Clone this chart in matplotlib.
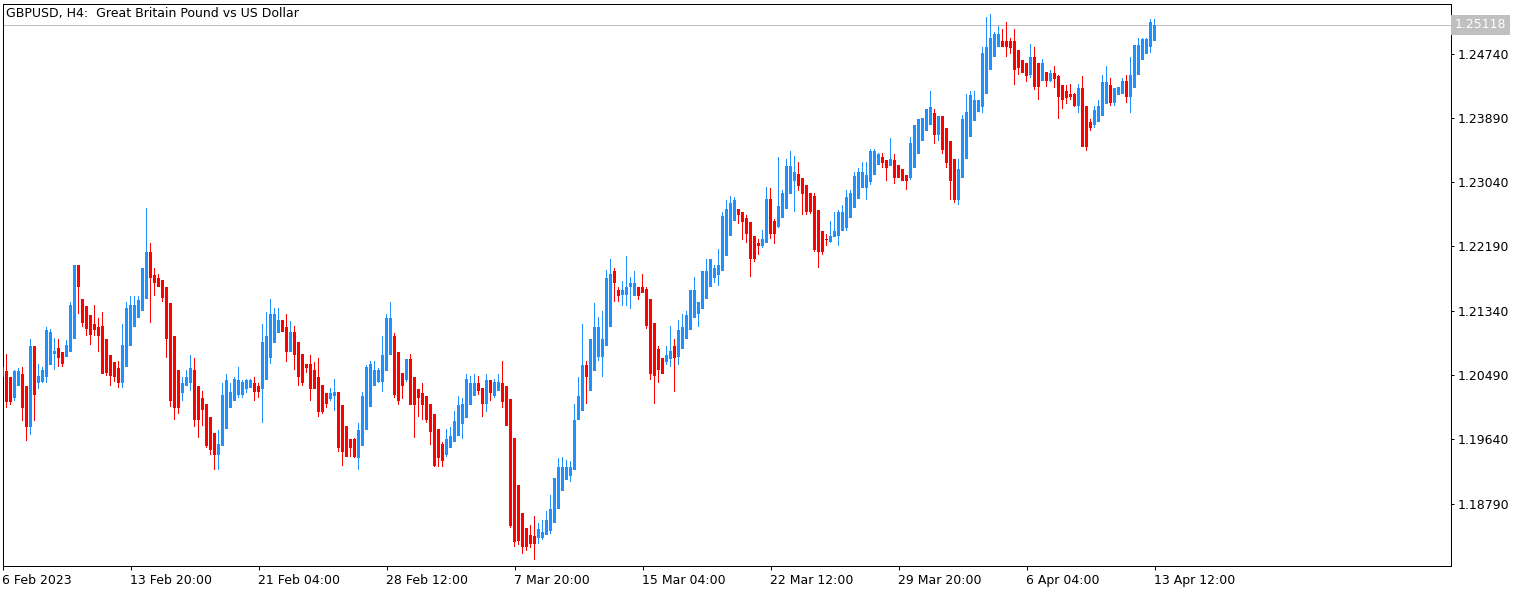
import numpy as np
import matplotlib
matplotlib.use("Agg")
import matplotlib.pyplot as plt
from matplotlib.patches import Rectangle

# ---------------- data (GBPUSD H4, bar index 0 = 6 Feb 2023 12:00) ----------------
opens = [
1.2060, 1.2054, 1.2046, 1.2018, 1.2034, 1.2051, 1.2034, 1.1980, 1.2087, 1.2038,
1.2040, 1.2046, 1.2062, 1.2077, 1.2085, 1.2080, 1.2073, 1.2079, 1.2096, 1.2194,
1.2149, 1.2140, 1.2128, 1.2116, 1.2113, 1.2114, 1.2097, 1.2076, 1.2066, 1.2058,
1.2039, 1.2060, 1.2087, 1.2112, 1.2125, 1.2134, 1.2149, 1.2211, 1.2181, 1.2177,
1.2175, 1.2166, 1.2144, 1.2100, 1.2056, 1.2025, 1.2034, 1.2039, 1.2056, 1.2035,
1.2019, 1.2011, 1.1993, 1.1973, 1.1943, 1.1955, 1.1977, 1.2005, 1.2014, 1.2022,
1.2022, 1.2030, 1.2032, 1.2039, 1.2035, 1.2031, 1.2043, 1.2072, 1.2091, 1.2104,
1.2122, 1.2113, 1.2079, 1.2106, 1.2093, 1.2077, 1.2063, 1.2063, 1.2055, 1.2047,
1.2036, 1.2025, 1.2017, 1.2021, 1.2026, 1.2009, 1.1981, 1.1965, 1.1965, 1.1939,
1.1955, 1.1976, 1.2007, 1.2034, 1.2040, 1.2040, 1.2054, 1.2076, 1.2101, 1.2079,
1.2052, 1.2042, 1.2070, 1.2047, 1.2030, 1.2025, 1.2021, 1.2011, 1.1997, 1.1977,
1.1958, 1.1943, 1.1952, 1.1960, 1.1969, 1.1984, 1.1992, 1.2010, 1.2021, 1.2038,
1.2032, 1.2011, 1.2043, 1.2021, 1.2028, 1.2039, 1.2034, 1.2017, 1.1966, 1.1904,
1.1867, 1.1847, 1.1838, 1.1836, 1.1833, 1.1833, 1.1838, 1.1843, 1.1854, 1.1872,
1.1896, 1.1910, 1.1916, 1.1923, 1.1990, 1.2002, 1.2062, 1.2028, 1.2054, 1.2073,
1.2073, 1.2087, 1.2112, 1.2187, 1.2161, 1.2155, 1.2155, 1.2165, 1.2154, 1.2166,
1.2166, 1.2163, 1.2150, 1.2118, 1.2084, 1.2071, 1.2066, 1.2070, 1.2088, 1.2073,
1.2084, 1.2097, 1.2108, 1.2125, 1.2130, 1.2136, 1.2149, 1.2166, 1.2177, 1.2181,
1.2186, 1.2206, 1.2233, 1.2253, 1.2268, 1.2264, 1.2257, 1.2251, 1.2233, 1.2223,
1.2219, 1.2223, 1.2282, 1.2252, 1.2244, 1.2257, 1.2268, 1.2288, 1.2305, 1.2315,
1.2309, 1.2300, 1.2289, 1.2286, 1.2267, 1.2240, 1.2229, 1.2225, 1.2231, 1.2233,
1.2240, 1.2243, 1.2256, 1.2270, 1.2282, 1.2296, 1.2296, 1.2304, 1.2314, 1.2327,
1.2337, 1.2333, 1.2325, 1.2333, 1.2326, 1.2321, 1.2314, 1.2309, 1.2322, 1.2341,
1.2359, 1.2372, 1.2380, 1.2396, 1.2366, 1.2392, 1.2376, 1.2358, 1.2335, 1.2281,
1.2309, 1.2335, 1.2364, 1.2385, 1.2397, 1.2403, 1.2421, 1.2452, 1.2470, 1.2483,
1.2490, 1.2490, 1.2490, 1.2490, 1.2478, 1.2466, 1.2462, 1.2445, 1.2469, 1.2462,
1.2437, 1.2450, 1.2437, 1.2448, 1.2444, 1.2433, 1.2424, 1.2421, 1.2421, 1.2405,
1.2429, 1.2405, 1.2384, 1.2379, 1.2384, 1.2392, 1.2407, 1.2432, 1.2408, 1.2419,
1.2421, 1.2438, 1.2417, 1.2429, 1.2446, 1.2465, 1.2474, 1.2482, 1.2491,
]
highs = [
1.2060, 1.2077, 1.2046, 1.2056, 1.2058, 1.2059, 1.2034, 1.2097, 1.2087, 1.2063,
1.2059, 1.2112, 1.2110, 1.2098, 1.2097, 1.2080, 1.2095, 1.2145, 1.2194, 1.2195,
1.2149, 1.2140, 1.2128, 1.2141, 1.2124, 1.2132, 1.2097, 1.2076, 1.2066, 1.2068,
1.2117, 1.2146, 1.2153, 1.2154, 1.2153, 1.2190, 1.2270, 1.2223, 1.2191, 1.2183,
1.2175, 1.2166, 1.2144, 1.2100, 1.2056, 1.2046, 1.2055, 1.2076, 1.2071, 1.2035,
1.2028, 1.2011, 1.1993, 1.1973, 1.1976, 1.2039, 1.2051, 1.2039, 1.2047, 1.2059,
1.2043, 1.2044, 1.2044, 1.2046, 1.2038, 1.2116, 1.2132, 1.2149, 1.2137, 1.2137,
1.2122, 1.2130, 1.2121, 1.2114, 1.2093, 1.2077, 1.2063, 1.2076, 1.2066, 1.2071,
1.2036, 1.2025, 1.2032, 1.2044, 1.2026, 1.2009, 1.1981, 1.1965, 1.1966, 1.1986,
1.2026, 1.2062, 1.2068, 1.2068, 1.2058, 1.2100, 1.2130, 1.2145, 1.2104, 1.2079,
1.2052, 1.2070, 1.2077, 1.2047, 1.2030, 1.2039, 1.2021, 1.2011, 1.1997, 1.1977,
1.1960, 1.1977, 1.1980, 1.2001, 1.2021, 1.2019, 1.2051, 1.2048, 1.2050, 1.2048,
1.2032, 1.2051, 1.2043, 1.2044, 1.2050, 1.2067, 1.2034, 1.2017, 1.1966, 1.1904,
1.1867, 1.1847, 1.1851, 1.1862, 1.1853, 1.1858, 1.1869, 1.1891, 1.1913, 1.1939,
1.1941, 1.1936, 1.1935, 1.2011, 1.2047, 1.2116, 1.2067, 1.2096, 1.2144, 1.2126,
1.2134, 1.2188, 1.2202, 1.2190, 1.2165, 1.2173, 1.2206, 1.2179, 1.2186, 1.2166,
1.2183, 1.2166, 1.2150, 1.2118, 1.2087, 1.2071, 1.2088, 1.2114, 1.2096, 1.2122,
1.2129, 1.2134, 1.2161, 1.2178, 1.2146, 1.2187, 1.2202, 1.2203, 1.2194, 1.2216,
1.2264, 1.2281, 1.2286, 1.2284, 1.2269, 1.2264, 1.2260, 1.2251, 1.2233, 1.2229,
1.2241, 1.2298, 1.2296, 1.2255, 1.2337, 1.2294, 1.2334, 1.2345, 1.2339, 1.2331,
1.2309, 1.2300, 1.2289, 1.2289, 1.2267, 1.2240, 1.2236, 1.2252, 1.2264, 1.2267,
1.2274, 1.2294, 1.2294, 1.2317, 1.2322, 1.2331, 1.2330, 1.2348, 1.2348, 1.2342,
1.2342, 1.2333, 1.2362, 1.2341, 1.2326, 1.2321, 1.2314, 1.2363, 1.2380, 1.2387,
1.2389, 1.2400, 1.2424, 1.2400, 1.2392, 1.2392, 1.2376, 1.2358, 1.2335, 1.2334,
1.2393, 1.2421, 1.2424, 1.2424, 1.2412, 1.2482, 1.2522, 1.2526, 1.2503, 1.2511,
1.2506, 1.2515, 1.2494, 1.2507, 1.2478, 1.2466, 1.2462, 1.2487, 1.2482, 1.2462,
1.2467, 1.2450, 1.2452, 1.2457, 1.2446, 1.2433, 1.2432, 1.2434, 1.2422, 1.2434,
1.2444, 1.2405, 1.2387, 1.2404, 1.2413, 1.2446, 1.2457, 1.2441, 1.2429, 1.2430,
1.2441, 1.2446, 1.2470, 1.2485, 1.2495, 1.2495, 1.2495, 1.2520, 1.2520,
]
lows = [
1.2038, 1.2006, 1.2009, 1.2014, 1.2034, 1.1988, 1.1962, 1.1970, 1.1988, 1.2031,
1.2038, 1.2039, 1.2062, 1.2056, 1.2060, 1.2059, 1.2073, 1.2079, 1.2096, 1.2130,
1.2112, 1.2101, 1.2089, 1.2100, 1.2080, 1.2050, 1.2048, 1.2034, 1.2040, 1.2032,
1.2032, 1.2060, 1.2087, 1.2112, 1.2125, 1.2134, 1.2149, 1.2118, 1.2154, 1.2165,
1.2145, 1.2072, 1.2007, 1.1990, 1.1997, 1.2015, 1.2034, 1.2028, 1.1980, 1.1966,
1.1982, 1.1953, 1.1943, 1.1923, 1.1923, 1.1955, 1.1977, 1.2005, 1.2014, 1.2019,
1.2019, 1.2025, 1.2032, 1.2014, 1.2018, 1.1986, 1.2043, 1.2063, 1.2091, 1.2104,
1.2106, 1.2066, 1.2079, 1.2056, 1.2035, 1.2035, 1.2052, 1.2015, 1.2031, 1.1993,
1.1997, 1.2005, 1.2014, 1.2001, 1.1947, 1.1929, 1.1941, 1.1941, 1.1939, 1.1924,
1.1955, 1.1976, 1.2007, 1.2034, 1.2039, 1.2027, 1.2054, 1.2076, 1.2018, 1.2010,
1.2017, 1.2040, 1.2009, 1.1966, 1.1994, 1.1990, 1.1986, 1.1956, 1.1927, 1.1927,
1.1928, 1.1940, 1.1952, 1.1960, 1.1969, 1.1964, 1.1992, 1.2010, 1.2021, 1.2022,
1.1994, 1.2000, 1.2014, 1.2018, 1.2028, 1.2006, 1.1981, 1.1847, 1.1822, 1.1824,
1.1812, 1.1817, 1.1820, 1.1804, 1.1826, 1.1831, 1.1837, 1.1839, 1.1854, 1.1872,
1.1896, 1.1910, 1.1908, 1.1923, 1.1990, 1.2002, 1.2011, 1.2028, 1.2054, 1.2068,
1.2047, 1.2087, 1.2112, 1.2146, 1.2145, 1.2140, 1.2140, 1.2136, 1.2154, 1.2148,
1.2157, 1.2110, 1.2043, 1.2011, 1.2038, 1.2050, 1.2062, 1.2059, 1.2027, 1.2062,
1.2084, 1.2097, 1.2108, 1.2125, 1.2113, 1.2136, 1.2149, 1.2166, 1.2171, 1.2167,
1.2186, 1.2206, 1.2233, 1.2253, 1.2248, 1.2228, 1.2223, 1.2179, 1.2199, 1.2208,
1.2217, 1.2223, 1.2229, 1.2222, 1.2243, 1.2257, 1.2268, 1.2288, 1.2265, 1.2292,
1.2261, 1.2261, 1.2262, 1.2211, 1.2190, 1.2207, 1.2220, 1.2223, 1.2231, 1.2219,
1.2240, 1.2240, 1.2256, 1.2270, 1.2282, 1.2296, 1.2281, 1.2300, 1.2314, 1.2327,
1.2322, 1.2305, 1.2325, 1.2302, 1.2309, 1.2305, 1.2293, 1.2307, 1.2322, 1.2341,
1.2359, 1.2372, 1.2380, 1.2354, 1.2359, 1.2341, 1.2323, 1.2281, 1.2276, 1.2274,
1.2309, 1.2335, 1.2364, 1.2385, 1.2397, 1.2395, 1.2421, 1.2452, 1.2470, 1.2482,
1.2483, 1.2469, 1.2474, 1.2432, 1.2446, 1.2448, 1.2436, 1.2441, 1.2426, 1.2412,
1.2437, 1.2430, 1.2436, 1.2428, 1.2388, 1.2400, 1.2407, 1.2412, 1.2403, 1.2396,
1.2351, 1.2345, 1.2371, 1.2375, 1.2384, 1.2392, 1.2407, 1.2405, 1.2405, 1.2419,
1.2421, 1.2408, 1.2396, 1.2429, 1.2446, 1.2465, 1.2474, 1.2475, 1.2491,
]
closes = [
1.2047, 1.2013, 1.2013, 1.2054, 1.2054, 1.2006, 1.1980, 1.2087, 1.2022, 1.2048,
1.2055, 1.2108, 1.2106, 1.2081, 1.2072, 1.2064, 1.2089, 1.2142, 1.2194, 1.2166,
1.2118, 1.2110, 1.2102, 1.2108, 1.2100, 1.2051, 1.2052, 1.2048, 1.2046, 1.2039,
1.2089, 1.2137, 1.2142, 1.2142, 1.2148, 1.2190, 1.2211, 1.2177, 1.2171, 1.2166,
1.2151, 1.2097, 1.2014, 1.2006, 1.2006, 1.2038, 1.2047, 1.2058, 1.1989, 1.1989,
1.2003, 1.1955, 1.1950, 1.1943, 1.1958, 1.2022, 1.2042, 1.2027, 1.2044, 1.2042,
1.2040, 1.2042, 1.2042, 1.2027, 1.2027, 1.2093, 1.2101, 1.2129, 1.2130, 1.2122,
1.2106, 1.2079, 1.2106, 1.2075, 1.2046, 1.2039, 1.2058, 1.2031, 1.2031, 1.2000,
1.2000, 1.2011, 1.2025, 1.2026, 1.1953, 1.1947, 1.1941, 1.1953, 1.1940, 1.1976,
1.2021, 1.2060, 1.2064, 1.2055, 1.2055, 1.2076, 1.2124, 1.2124, 1.2023, 1.2015,
1.2035, 1.2070, 1.2009, 1.2010, 1.2018, 1.2010, 1.1989, 1.1974, 1.1929, 1.1939,
1.1935, 1.1965, 1.1968, 1.1988, 1.2010, 1.2011, 1.2044, 1.2038, 1.2038, 1.2028,
1.2011, 1.2043, 1.2025, 1.2040, 1.2040, 1.2013, 1.1981, 1.1850, 1.1828, 1.1829,
1.1822, 1.1822, 1.1825, 1.1825, 1.1846, 1.1841, 1.1857, 1.1872, 1.1913, 1.1927,
1.1927, 1.1927, 1.1927, 1.1990, 1.2021, 1.2062, 1.2046, 1.2096, 1.2113, 1.2113,
1.2097, 1.2177, 1.2183, 1.2170, 1.2154, 1.2161, 1.2166, 1.2170, 1.2170, 1.2154,
1.2157, 1.2114, 1.2050, 1.2048, 1.2056, 1.2050, 1.2075, 1.2081, 1.2071, 1.2108,
1.2113, 1.2128, 1.2161, 1.2161, 1.2146, 1.2187, 1.2187, 1.2203, 1.2191, 1.2194,
1.2259, 1.2269, 1.2277, 1.2280, 1.2260, 1.2251, 1.2236, 1.2203, 1.2203, 1.2219,
1.2229, 1.2282, 1.2236, 1.2236, 1.2273, 1.2289, 1.2325, 1.2325, 1.2317, 1.2299,
1.2288, 1.2264, 1.2264, 1.2214, 1.2211, 1.2211, 1.2228, 1.2233, 1.2239, 1.2264,
1.2264, 1.2284, 1.2289, 1.2312, 1.2317, 1.2317, 1.2314, 1.2345, 1.2345, 1.2341,
1.2329, 1.2322, 1.2335, 1.2309, 1.2309, 1.2305, 1.2305, 1.2356, 1.2379, 1.2387,
1.2389, 1.2400, 1.2403, 1.2366, 1.2392, 1.2347, 1.2329, 1.2306, 1.2281, 1.2321,
1.2387, 1.2397, 1.2419, 1.2412, 1.2412, 1.2475, 1.2483, 1.2494, 1.2500, 1.2500,
1.2483, 1.2483, 1.2481, 1.2452, 1.2455, 1.2448, 1.2444, 1.2469, 1.2430, 1.2430,
1.2462, 1.2437, 1.2448, 1.2440, 1.2416, 1.2413, 1.2415, 1.2416, 1.2405, 1.2429,
1.2351, 1.2351, 1.2375, 1.2399, 1.2404, 1.2436, 1.2436, 1.2408, 1.2429, 1.2430,
1.2438, 1.2417, 1.2446, 1.2485, 1.2485, 1.2493, 1.2493, 1.2515, 1.25118,
]

price_ticks = [1.18790, 1.19640, 1.20490, 1.21340, 1.22190, 1.23040, 1.23890, 1.24740]
time_tick_bars = [0, 32, 64, 96, 128, 160, 192, 224, 256, 288]
time_tick_labels = ["6 Feb 2023", "13 Feb 20:00", "21 Feb 04:00", "28 Feb 12:00",
                    "7 Mar 20:00", "15 Mar 04:00", "22 Mar 12:00", "29 Mar 20:00",
                    "6 Apr 04:00", "13 Apr 12:00"]
last_price = 1.25118
title = "GBPUSD, H4:  Great Britain Pound vs US Dollar"

# ---------------- styling ----------------
BULL = "#1E90FF"
BEAR = "#FF0000"
W, H = 1529, 592
PX = 72.0 / 100.0   # one pixel in points at dpi 100
FS = 9

fig = plt.figure(figsize=(W / 100, H / 100), dpi=100)
fig.patch.set_facecolor("white")

def px_rect(x0, y0, x1, y1):
    return [x0 / W, 1 - y1 / H, (x1 - x0) / W, (y1 - y0) / H]

ax = fig.add_axes(px_rect(2.5, 3.5, 1450.5, 565.5))
ax.set_facecolor("white")

n = len(closes)
o = np.array(opens); h = np.array(highs); l = np.array(lows); c = np.array(closes)
x = np.arange(n)

BODY_W = 0.75   # 3 px of the 4 px bar pitch
WICK_W = 0.25   # 1 px
for i in range(n):
    col = BULL if c[i] >= o[i] else BEAR
    lo = min(l[i], o[i], c[i]); hi = max(h[i], o[i], c[i])
    ax.add_patch(Rectangle((x[i] - WICK_W / 2, lo), WICK_W, hi - lo, facecolor=col,
                           edgecolor="none", antialiased=False, zorder=2))
    bot = min(o[i], c[i])
    ht = max(abs(c[i] - o[i]), 0.00013)
    ax.add_patch(Rectangle((x[i] - BODY_W / 2, bot), BODY_W, ht, facecolor=col,
                           edgecolor="none", antialiased=False, zorder=3))

# price line
ax.axhline(last_price, color="#C0C0C0", linewidth=1.0 * PX, zorder=1)

# limits: pixel x = 2.5 + 4*i
ax.set_xlim((2.5 - 2.5) / 4, (1450.5 - 2.5) / 4)
ax.set_ylim(1.17972, 1.25401)

for s in ax.spines.values():
    s.set_color("#000000")
    s.set_linewidth(1.0 * PX)

ax.yaxis.tick_right()
ax.set_yticks(price_ticks)
ax.set_yticklabels([f"{v:.5f}" for v in price_ticks])
ax.tick_params(axis="y", which="both", length=3 * PX, width=1 * PX,
               color="#000000", pad=3, labelsize=FS, labelcolor="#000000")

ax.set_xticks(time_tick_bars)
ax.set_xticklabels(time_tick_labels)
ax.tick_params(axis="x", which="both", length=4 * PX, width=1 * PX,
               color="#000000", pad=3, labelsize=FS, labelcolor="#000000")
for lab in ax.get_xticklabels():
    lab.set_horizontalalignment("left")

# title
fig.text(6 / W, 1 - 13 / H, title, ha="left", va="center", fontsize=FS, color="#000000")

# current price label
fig.text(1455 / W, 1 - 25 / H, f"{last_price:.5f}", ha="left", va="center",
         fontsize=FS, color="white",
         bbox=dict(boxstyle="square,pad=0.3", facecolor="#C0C0C0", edgecolor="none"))

fig.savefig("out.png", dpi=100, facecolor="white")
